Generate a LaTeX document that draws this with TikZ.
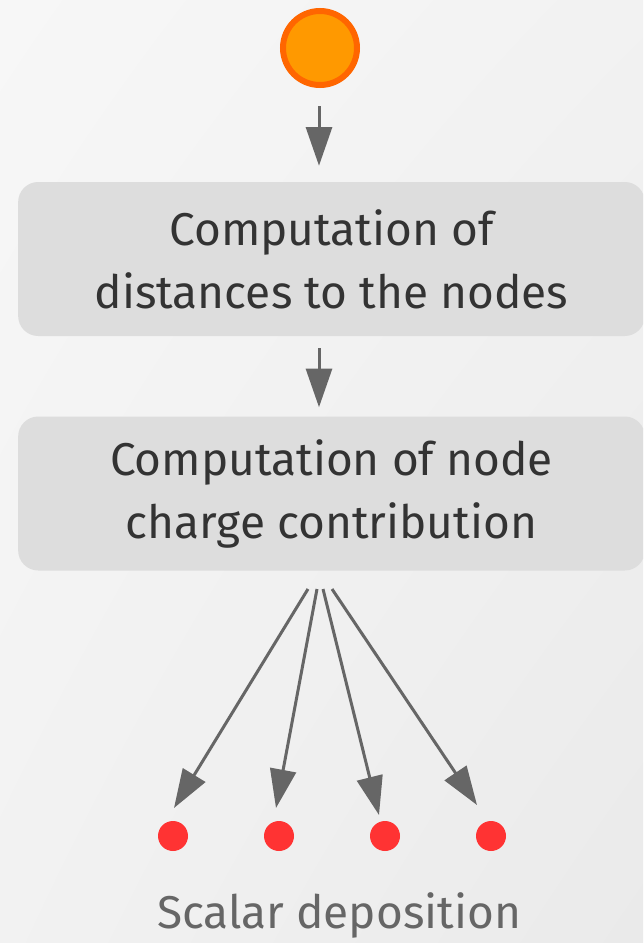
\documentclass[tikz,border=0pt]{standalone}
\usepackage{fontspec}
\setmainfont{Fira Sans}
\usetikzlibrary{positioning,arrows.meta,shadings}
\definecolor{bgtop}{HTML}{F7F7F7}
\definecolor{bgbot}{HTML}{EAEAEA}
\definecolor{boxgray}{HTML}{DDDDDD}
\definecolor{txtdark}{HTML}{333333}
\definecolor{arrgray}{HTML}{666666}
\definecolor{srcfill}{HTML}{FF9900}
\definecolor{srcline}{HTML}{FF6600}
\definecolor{dotred}{HTML}{FF3333}
\tikzset{
  procbox/.style={rectangle,rounded corners=15pt,fill=boxgray,text=txtdark,
    minimum width=470pt,minimum height=115.5pt,align=center,inner sep=0pt,
    font=\fontsize{34.5}{47.25}\selectfont},
  flow/.style={draw=arrgray,line width=2.25pt,
    -{Triangle[length=29pt,width=19.5pt]}},
  depdot/.style={circle,fill=dotred,minimum size=22.5pt,inner sep=0pt},
}
\begin{document}
\begin{tikzpicture}[x=0.75pt,y=-0.75pt]
  \clip (0,0) rectangle (643,943);
  \shade[upper left=bgtop,upper right=bgtop!60!bgbot,lower left=bgtop!60!bgbot,lower right=bgbot]
    (0,0) rectangle (643,943);
  % source
  \node[circle,fill=srcfill,draw=srcline,line width=4.5pt,minimum size=55.5pt,inner sep=0pt] (src) at (320,48) {};
  % processing steps
  \node[procbox] (dist) at (331.5,259) {Computation of\\distances to the nodes};
  \node[procbox] (charge) at (331.5,493.5) {Computation of node\\charge contribution};
  \draw[flow,shorten <=13.5pt,shorten >=12pt] (src.south -| 319,0) -- (dist.north -| 319,0);
  \draw[flow,shorten <=9pt,shorten >=6.75pt] (dist.south -| 319,0) -- (charge.north -| 319,0);
  % deposition on the nodes
  \foreach \i/\fx/\tx/\ty/\dx in {1/308/174/808/173,2/317/276/808/279,3/323/379/815/385,4/332/477/805/491}{
    \coordinate (f\i) at (\fx,589);
    \coordinate (t\i) at (\tx,\ty);
    \node[depdot] (d\i) at (\dx,836) {};
    \draw[flow] (f\i) -- (t\i);
  }
  \node[text=arrgray,font=\fontsize{34.5}{40}\selectfont] (lbl) at (339,915) {Scalar deposition};
\end{tikzpicture}
\end{document}
